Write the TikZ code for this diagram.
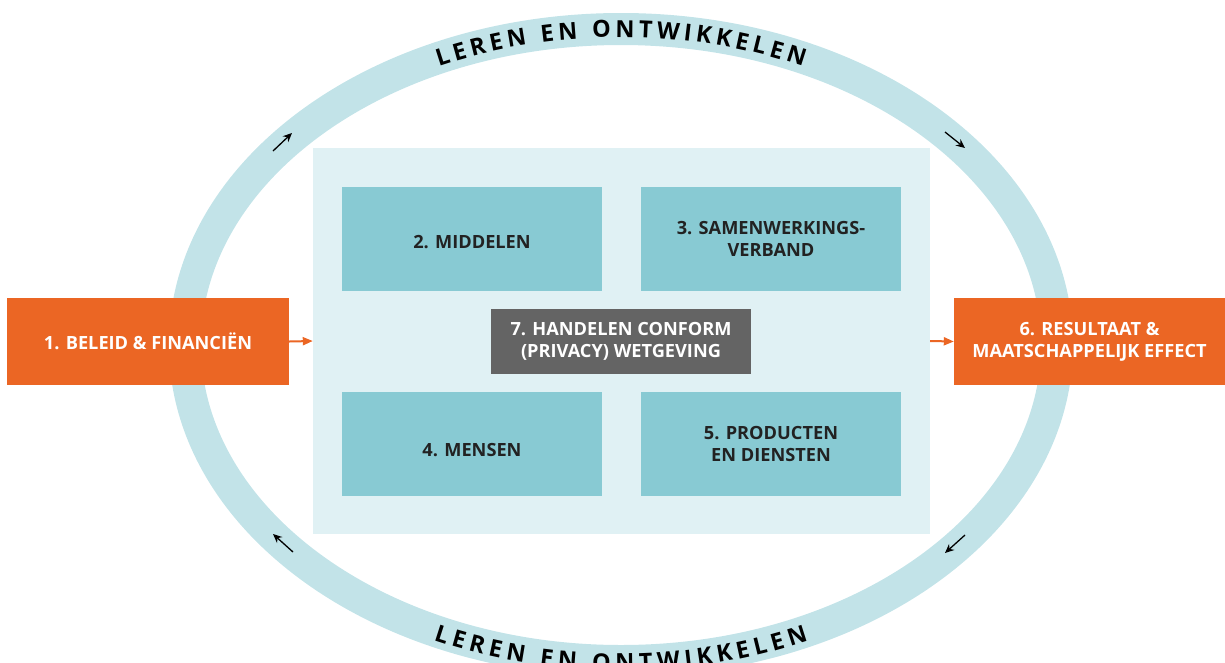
\documentclass[tikz,border=0pt]{standalone}
\usepackage{fontspec}
\setmainfont{Open Sans}
\usetikzlibrary{arrows.meta,decorations.text}
\definecolor{ringc}{HTML}{C2E3E8}
\definecolor{panelc}{HTML}{E0F1F4}
\definecolor{boxc}{HTML}{88CAD3}
\definecolor{grayc}{HTML}{646464}
\definecolor{orangec}{HTML}{EB6624}
\definecolor{darktext}{HTML}{222222}
\newcommand{\ringfont}{\fontsize{23.5}{23.5}\selectfont\bfseries\color{black}}
\begin{document}
\begin{tikzpicture}[x=1pt,y=1pt,
  boxfont/.style={font=\fontsize{18.2}{22}\selectfont\bfseries},
  tealbox/.style={fill=boxc,draw=none,minimum width=260pt,minimum height=104pt,inner sep=0pt,align=center,text=darktext,boxfont},
  orangebox/.style={fill=orangec,draw=none,minimum height=87pt,inner sep=0pt,align=center,text=white,boxfont},
  ringarrow/.style={-{Stealth[length=9pt,width=8pt]},line width=1.3pt,black},
  flowarrow/.style={-{Triangle[length=10pt,width=8pt]},line width=2pt,orangec}]
\useasboundingbox (0,0) rectangle (1225,-662);
% ring
\draw[ringc,line width=32pt] (621,-345) ellipse[x radius=436,y radius=316];
% ring texts
\path[decorate,decoration={text along path,text align=center,raise=-8.3pt,
  text={|\ringfont|{L\kern4.5pt}{E\kern4.5pt}{R\kern4.5pt}{E\kern4.5pt}{N\kern15pt}{E\kern4.5pt}{N\kern15pt}{O\kern4.5pt}{N\kern4.5pt}{T\kern4.5pt}{W\kern4.5pt}{I\kern4.5pt}{K\kern4.5pt}{K\kern4.5pt}{E\kern4.5pt}{L\kern4.5pt}{E\kern4.5pt}{N}}}]
  (621,-345) ++(165:436 and 316) arc[start angle=165,end angle=15,x radius=436,y radius=316];
\path[decorate,decoration={text along path,text align=center,raise=-9.5pt,
  text={|\ringfont|{L\kern4.5pt}{E\kern4.5pt}{R\kern4.5pt}{E\kern4.5pt}{N\kern15pt}{E\kern4.5pt}{N\kern15pt}{O\kern4.5pt}{N\kern4.5pt}{T\kern4.5pt}{W\kern4.5pt}{I\kern4.5pt}{K\kern4.5pt}{K\kern4.5pt}{E\kern4.5pt}{L\kern4.5pt}{E\kern4.5pt}{N}}}]
  (621,-345) ++(195:436 and 316) arc[start angle=195,end angle=345,x radius=436,y radius=316];
% ring arrows
\coordinate (a1s) at (273,-151); \coordinate (a1e) at (292,-133);
\coordinate (a2s) at (945,-132); \coordinate (a2e) at (965,-148);
\coordinate (a3s) at (965,-535); \coordinate (a3e) at (945,-553);
\coordinate (a4s) at (293,-552); \coordinate (a4e) at (273,-534);
\draw[ringarrow] (a1s) -- (a1e);
\draw[ringarrow] (a2s) -- (a2e);
\draw[ringarrow] (a3s) -- (a3e);
\draw[ringarrow] (a4s) -- (a4e);
% panel
\node[fill=panelc,draw=none,minimum width=617pt,minimum height=386pt,inner sep=0pt] (panel) at (621.5,-341) {};
\node[tealbox] (b2) at (472,-239) {\raisebox{-3pt}[\height][\depth]{2. MIDDELEN}};
\node[tealbox] (b3) at (771,-239) {3. SAMENWERKINGS-\\VERBAND};
\node[tealbox] (b4) at (472,-444) {\raisebox{-6pt}[\height][\depth]{4. MENSEN}};
\node[tealbox] (b5) at (771,-444) {5. PRODUCTEN\\EN DIENSTEN};
\node[fill=grayc,draw=none,minimum width=260pt,minimum height=65pt,inner sep=0pt,align=center,text=white,boxfont] (b7) at (621,-341.5) {7. HANDELEN CONFORM\\(PRIVACY) WETGEVING};
% orange boxes
\node[orangebox,minimum width=282pt] (b1) at (148,-341.5) {1. BELEID \& FINANCIËN};
\node[orangebox,minimum width=271pt] (b6) at (1089.5,-341.5) {6. RESULTAAT \&\\MAATSCHAPPELIJK EFFECT};
\draw[flowarrow] (b1.east) -- (panel.west);
\draw[flowarrow] (panel.east) -- (b6.west);
\end{tikzpicture}
\end{document}
